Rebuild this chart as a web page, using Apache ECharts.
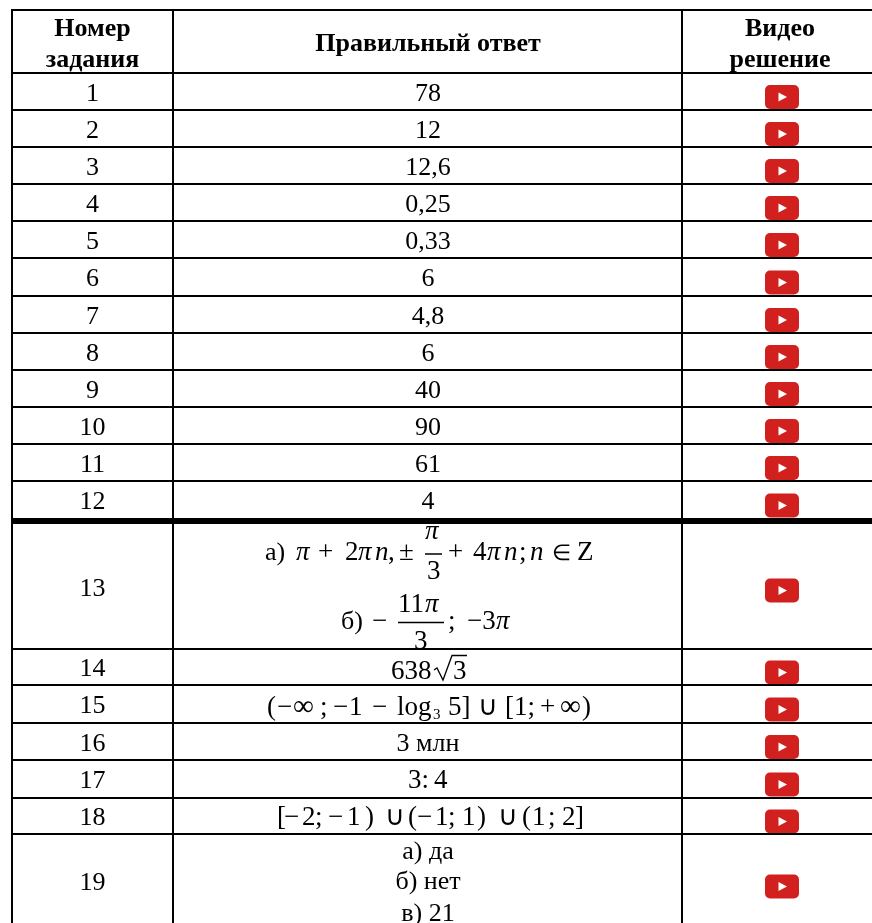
<!DOCTYPE html>
<html>
<head>
<meta charset="utf-8">
<title>Ответы</title>
<script src="https://cdn.jsdelivr.net/npm/echarts@6/dist/echarts.min.js"></script>
<style>
  html, body { margin: 0; padding: 0; background: #fff; }
  #main { width: 872px; height: 923px; }
</style>
</head>
<body>
<div id="main"></div>
<script>
// table content
var headerNumber = ['Номер', 'задания'];
var headerAnswer = ['Правильный ответ'];
var headerVideo = ['Видео', 'решение'];
var taskNumbers = ['1','2','3','4','5','6','7','8','9','10','11','12','13','14','15','16','17','18','19'];
var plainAnswers = ['78','12','12,6','0,25','0,33','6','4,8','6','40','90','61','4','','','','3 млн','','',''];
var answer19 = ['а) да', 'б) нет', 'в) 21'];

// math answers, split in tokens because they are spaced by hand
var answer13a = ['а)','π','+','2','π','n',',','±','π','3','+','4','π','n',';','n','∈','Z'];
var answer13b = ['б)','−','11','π','3',';','−3','π'];
var answer14 = ['638','3'];
var answer15 = ['(','−','∞',';','−','1','−','log','3','5]','∪','[1;','+','∞',')'];
var answer17 = ['3:','4'];
var answer18 = ['[','−','2',';','−','1',')','∪','(','−','1',';','1',')','∪','(','1',';','2',']'];

// layout, in picture pixels
var rowEdges = [73,110,147,184,221,258,296,333,370,407,444,481,521,649,685,723,760,798,834,928];
var colEdges = [12,173,682];
var topEdge = 10;
var colCenters = [92.5,428,780];
var iconX = 782;
var textSize = 26;
var mathSize = 27;

var math13aX = [265,296,318,345,358,375,388,399,425,427,448,473,487,504,519,530,552,577];
var math13aY = [561,561,561,561,561,561,561,561,540,580,561,561,561,561,561,561,561,561];
var math13bX = [341,372,398,425,414,448,467,496];
var math13bY = [630,630,613,613,650,630,630,630];
var math14X = [391,453];
var math15X = [267,277,293,320,333,349,372,397,433,448,478,505,540,560,582];
var math15Y = [716,716,716,716,716,716,716,716,719.5,716,716,716,716,716,716];
var math17X = [408,434];
var math18X = [277,284,302,315,328,347,365,385,408,417,435,448,462,477,498,522,532,548,562,575];
var specialSize = { '∈': 22, '∞': 29 };

var fontFamily = '"Liberation Serif", serif';

function textEl(api, str, x, y, opt) {
  opt = opt || {};
  var p = api.coord([x, y]);
  return {
    type: 'text',
    x: p[0],
    y: p[1],
    style: {
      text: str,
      fill: '#000',
      fontFamily: fontFamily,
      fontSize: opt.size || textSize,
      fontWeight: opt.bold ? 'bold' : 'normal',
      fontStyle: opt.italic ? 'italic' : 'normal',
      align: opt.align || 'center',
      verticalAlign: 'middle'
    }
  };
}

// token sits on a baseline
function tokens(api, list, xs, ys, baseline) {
  return list.map(function (t, i) {
    var base = ys ? ys[i] : baseline;
    var size = specialSize[t] || mathSize;
    if (list === answer15 && i === 8) size = 15;
    if (t === 'а)' || t === 'б)') size = textSize;
    return textEl(api, t, xs[i], base + 1 - 0.34 * size, {
      size: size,
      align: 'left',
      italic: t === 'π' || t === 'n'
    });
  });
}

function lineEl(api, a, b, width) {
  var p1 = api.coord(a), p2 = api.coord(b);
  return {
    type: 'line',
    shape: { x1: p1[0], y1: p1[1], x2: p2[0], y2: p2[1] },
    style: { stroke: '#000', lineWidth: width }
  };
}

function renderBorders(params, api) {
  var kids = [lineEl(api, [colEdges[0] - 1, topEdge], [872, topEdge], 2)];
  rowEdges.forEach(function (y, i) {
    kids.push(lineEl(api, [colEdges[0], y], [872, y], i === 12 ? 6 : 2));
  });
  colEdges.forEach(function (x) {
    kids.push(lineEl(api, [x, topEdge], [x, 923], 2));
  });
  return { type: 'group', children: kids };
}

function renderHeader(params, api) {
  var kids = [];
  [headerNumber, headerVideo].forEach(function (h, k) {
    var cx = k === 0 ? colCenters[0] : colCenters[2];
    kids.push(textEl(api, h[0], cx, 29, { bold: true }));
    kids.push(textEl(api, h[1], cx, 60, { bold: true }));
  });
  kids.push(textEl(api, headerAnswer[0], colCenters[1], 44, { bold: true }));
  return { type: 'group', children: kids };
}

function renderRow(params, api) {
  var i = api.value(0);
  var mid = (rowEdges[i] + rowEdges[i + 1]) / 2;
  if (i === 11) mid -= 1;
  var cy = mid + (i === 12 ? 4 : 2.5);
  var kids = [textEl(api, taskNumbers[i], colCenters[0], cy)];
  if (plainAnswers[i]) kids.push(textEl(api, plainAnswers[i], colCenters[1], cy));
  // video button
  var c = api.coord([iconX, mid + 5.5]);
  kids.push({
    type: 'rect',
    shape: { x: c[0] - 17, y: c[1] - 12, width: 34, height: 24, r: 5 },
    style: { fill: '#d2201f' }
  });
  kids.push({
    type: 'polygon',
    shape: { points: [[c[0] - 3.5, c[1] - 4.5], [c[0] + 5, c[1]], [c[0] - 3.5, c[1] + 4.5]] },
    style: { fill: '#fff' }
  });
  return { type: 'group', children: kids };
}

function renderMath(params, api) {
  var kids = [];
  kids = kids.concat(tokens(api, answer13a, math13aX, math13aY));
  kids.push(lineEl(api, [425, 554], [442, 554], 1.5));
  kids = kids.concat(tokens(api, answer13b, math13bX, math13bY));
  kids.push(lineEl(api, [398, 622.5], [444, 622.5], 1.5));
  kids = kids.concat(tokens(api, answer14, math14X, null, 680));
  // radical of row 14
  var rad = [[434, 670], [437, 668], [443, 680], [452, 655.5], [467, 655.5]].map(function (p) { return api.coord(p); });
  kids.push({ type: 'polyline', shape: { points: rad }, style: { stroke: '#000', lineWidth: 1.3, fill: 'none' } });
  kids = kids.concat(tokens(api, answer15, math15X, math15Y));
  kids = kids.concat(tokens(api, answer17, math17X, null, 789));
  kids = kids.concat(tokens(api, answer18, math18X, null, 826));
  [852.5, 882.5, 914].forEach(function (y, k) {
    kids.push(textEl(api, answer19[k], colCenters[1], y));
  });
  return { type: 'group', children: kids };
}

var chart = echarts.init(document.getElementById('main'), null, { renderer: 'canvas' });
var option = {
  animation: false,
  backgroundColor: '#fff',
  grid: { left: 0, right: 0, top: 0, bottom: 0 },
  xAxis: { type: 'value', min: 0, max: 872, show: false },
  yAxis: { type: 'value', min: 0, max: 923, inverse: true, show: false },
  series: [
    { type: 'custom', coordinateSystem: 'cartesian2d', silent: true, renderItem: renderHeader, data: [[0]] },
    {
      type: 'custom', coordinateSystem: 'cartesian2d', silent: true, renderItem: renderRow,
      data: taskNumbers.map(function (t, i) { return [i]; })
    },
    { type: 'custom', coordinateSystem: 'cartesian2d', silent: true, renderItem: renderMath, data: [[0]] },
    // borders last, the lower 3 of row 13 runs under the line
    { type: 'custom', coordinateSystem: 'cartesian2d', silent: true, renderItem: renderBorders, data: [[0]] }
  ]
};
chart.setOption(option);
</script>
</body>
</html>
